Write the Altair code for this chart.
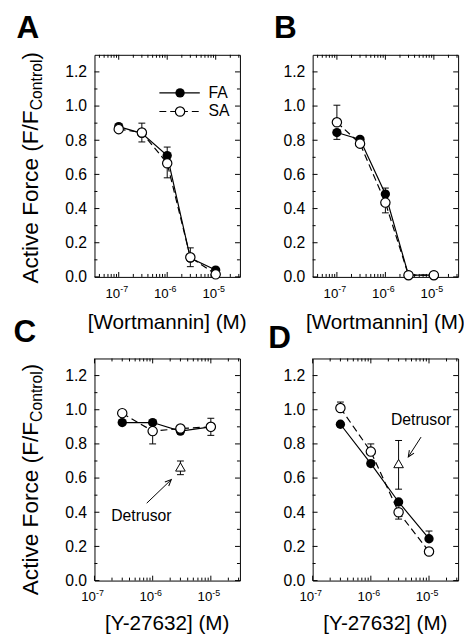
import altair as alt
import pandas as pd

FONT = "Liberation Sans"
W, H = 148, 226
TMAJ, TMIN = 5, 3

# ---------------- data ----------------
wort_conc = [1e-7, 3e-7, 1e-6, 3e-6, 1e-5]
y27_conc = [3e-7, 1e-6, 3e-6, 1e-5]
det_conc = [3e-6]

A_FA = [0.88, 0.84, 0.71, 0.11, 0.04]
A_FA_lo = [0.88, 0.84, 0.71, 0.11, 0.04]
A_FA_hi = [0.88, 0.84, 0.76, 0.11, 0.04]
A_SA = [0.865, 0.845, 0.665, 0.115, 0.015]
A_SA_lo = [0.865, 0.79, 0.58, 0.06, 0.015]
A_SA_hi = [0.865, 0.90, 0.665, 0.17, 0.015]

B_FA = [0.845, 0.805, 0.485, 0.01, 0.01]
B_FA_lo = [0.805, 0.805, 0.485, 0.01, 0.01]
B_FA_hi = [0.845, 0.805, 0.52, 0.01, 0.01]
B_SA = [0.905, 0.78, 0.435, 0.01, 0.01]
B_SA_lo = [0.905, 0.78, 0.375, 0.01, 0.01]
B_SA_hi = [1.005, 0.78, 0.435, 0.01, 0.01]

C_FA = [0.925, 0.925, 0.875, 0.90]
C_FA_lo = [0.925, 0.925, 0.875, 0.90]
C_FA_hi = [0.925, 0.925, 0.875, 0.90]
C_SA = [0.98, 0.875, 0.89, 0.90]
C_SA_lo = [0.98, 0.80, 0.89, 0.85]
C_SA_hi = [0.98, 0.875, 0.89, 0.95]
C_DET, C_DET_lo, C_DET_hi = [0.665], [0.62], [0.70]

D_FA = [0.915, 0.685, 0.46, 0.245]
D_FA_lo = [0.915, 0.685, 0.46, 0.245]
D_FA_hi = [0.915, 0.685, 0.46, 0.29]
D_SA = [1.01, 0.755, 0.40, 0.17]
D_SA_lo = [1.01, 0.755, 0.36, 0.17]
D_SA_hi = [1.045, 0.80, 0.40, 0.17]
D_DET, D_DET_lo, D_DET_hi = [0.685], [0.535], [0.82]

# axis ticks / labels
y_major = [0.0, 0.2, 0.4, 0.6, 0.8, 1.0, 1.2]
y_minor = [0.1, 0.3, 0.5, 0.7, 0.9, 1.1]
x_decades = [1e-7, 1e-6, 1e-5]
x_exponents = ["-7", "-6", "-5"]
wort_domain = [10 ** -7.5, 10 ** -4.5]
y27_domain = [1e-7, 10 ** -4.5]
wort_minor = [k * 1e-8 for k in range(4, 10)] + [k * 1e-7 for k in range(2, 10)] + \
             [k * 1e-6 for k in range(2, 10)] + [2e-5, 3e-5]
y27_minor = [k * 1e-7 for k in range(2, 10)] + [k * 1e-6 for k in range(2, 10)] + [2e-5, 3e-5]

# legend (panel A) and annotations
legend_line_x = [6.9e-7, 4.7e-6]
legend_mark_x = [1.84e-6]
legend_text_x = [7.1e-6]
legend_y = {"FA": 1.077, "SA": 0.968}

C_note = {"tx": 6.4e-7, "ty": 0.38, "x1": 7.9e-7, "y1": 0.453, "x2": 2.09e-6, "y2": 0.591, "ang": 46}
D_note = {"tx": 7.3e-6, "ty": 0.94, "x1": 7.3e-6, "y1": 0.84, "x2": 4.4e-6, "y2": 0.724, "ang": 213}

ONE = pd.DataFrame({"a": [0]})


def panel(letter, lx, ly, conc, fa, fa_lo, fa_hi, sa, sa_lo, sa_hi, xdom, xminor, xtitle, xtitle_y,
          ytitle_y=None, det=None, note=None, legend=False):
    xsc = alt.Scale(type="log", domain=xdom, nice=False)
    ysc = alt.Scale(domain=[0, 1.3], nice=False)
    yaxis = alt.Axis(values=y_major, format=".1f", ticks=False, tickSize=0, domain=False, grid=False,
                     labelFontSize=16, labelPadding=8, labelColor="black", labelFont=FONT, title=None)

    def X(f):
        return alt.X(f"{f}:Q", scale=xsc, axis=None)

    def Y(f):
        return alt.Y(f"{f}:Q", scale=ysc, axis=yaxis)

    L = []
    ymaj = pd.DataFrame({"v": y_major})
    ymin = pd.DataFrame({"v": y_minor})
    xmaj = pd.DataFrame({"v": x_decades})
    xmin = pd.DataFrame({"v": xminor})
    rule = dict(color="black", strokeWidth=1)
    L.append(alt.Chart(ymaj).mark_rule(**rule).encode(y=Y("v"), x=alt.value(0), x2=alt.value(TMAJ)))
    L.append(alt.Chart(ymin).mark_rule(**rule).encode(y=Y("v"), x=alt.value(0), x2=alt.value(TMIN)))
    L.append(alt.Chart(ymaj).mark_rule(**rule).encode(y=Y("v"), x=alt.value(W), x2=alt.value(W - TMAJ)))
    L.append(alt.Chart(ymin).mark_rule(**rule).encode(y=Y("v"), x=alt.value(W), x2=alt.value(W - TMIN)))
    L.append(alt.Chart(xmaj).mark_rule(**rule).encode(x=X("v"), y=alt.value(H), y2=alt.value(H - TMAJ)))
    L.append(alt.Chart(xmin).mark_rule(**rule).encode(x=X("v"), y=alt.value(H), y2=alt.value(H - TMIN)))
    L.append(alt.Chart(xmaj).mark_rule(**rule).encode(x=X("v"), y=alt.value(0), y2=alt.value(TMAJ)))
    L.append(alt.Chart(xmin).mark_rule(**rule).encode(x=X("v"), y=alt.value(0), y2=alt.value(TMIN)))

    # x tick labels 10^n
    xl = pd.DataFrame({"v": x_decades, "e": x_exponents})
    L.append(alt.Chart(xl).mark_text(text="10", align="right", baseline="alphabetic", fontSize=13.5,
                                     dx=1.5, color="black", font=FONT)
             .encode(x=X("v"), y=alt.value(H + 21)))
    L.append(alt.Chart(xl).mark_text(align="left", baseline="alphabetic", fontSize=9, dx=1.5,
                                     color="black", font=FONT)
             .encode(x=X("v"), y=alt.value(H + 15.5), text="e:N"))

    # series
    dfa = pd.DataFrame({"x": conc, "y": fa, "lo": fa_lo, "hi": fa_hi})
    dsa = pd.DataFrame({"x": conc, "y": sa, "lo": sa_lo, "hi": sa_hi})
    parts = [dfa, dsa]
    if det is not None:
        ddet = pd.DataFrame({"x": det_conc, "y": det[0], "lo": det[1], "hi": det[2]})
        parts.append(ddet)
    allp = pd.concat(parts, ignore_index=True)
    bars = allp[allp["lo"] < allp["hi"]]
    caps = pd.concat([
        pd.DataFrame({"x": allp["x"][allp["lo"] < allp["y"]], "c": allp["lo"][allp["lo"] < allp["y"]]}),
        pd.DataFrame({"x": allp["x"][allp["hi"] > allp["y"]], "c": allp["hi"][allp["hi"] > allp["y"]]}),
    ], ignore_index=True)

    L.append(alt.Chart(dfa).mark_line(color="black", strokeWidth=1.2).encode(x=X("x"), y=Y("y")))
    L.append(alt.Chart(dsa).mark_line(color="black", strokeWidth=1.2, strokeDash=[7, 4])
             .encode(x=X("x"), y=Y("y")))
    L.append(alt.Chart(bars).mark_rule(color="black", strokeWidth=1)
             .encode(x=X("x"), y=Y("lo"), y2=alt.Y2("hi")))
    L.append(alt.Chart(caps).mark_rule(color="black", strokeWidth=1, xOffset=-3.5, x2Offset=3.5)
             .encode(x=X("x"), x2=alt.X2("x"), y=Y("c")))
    L.append(alt.Chart(dfa).mark_point(shape="circle", size=90, filled=True, color="black", opacity=1)
             .encode(x=X("x"), y=Y("y")))
    L.append(alt.Chart(dsa).mark_point(shape="circle", size=90, filled=True, fill="white", stroke="black",
                                       strokeWidth=1.2, opacity=1)
             .encode(x=X("x"), y=Y("y")))
    if det is not None:
        L.append(alt.Chart(ddet).mark_point(shape="triangle-up", size=95, filled=True, fill="white",
                                            stroke="black", strokeWidth=1, opacity=1)
                 .encode(x=X("x"), y=Y("y")))

    if legend:
        lfa = pd.DataFrame({"x": legend_line_x, "y": [legend_y["FA"]] * 2})
        lsa = pd.DataFrame({"x": legend_line_x, "y": [legend_y["SA"]] * 2})
        mfa = pd.DataFrame({"x": legend_mark_x, "y": [legend_y["FA"]]})
        msa = pd.DataFrame({"x": legend_mark_x, "y": [legend_y["SA"]]})
        tl = pd.DataFrame({"x": legend_text_x * 2, "y": [legend_y["FA"], legend_y["SA"]], "t": ["FA", "SA"]})
        L.append(alt.Chart(lfa).mark_line(color="black", strokeWidth=1.2).encode(x=X("x"), y=Y("y")))
        L.append(alt.Chart(lsa).mark_line(color="black", strokeWidth=1.2, strokeDash=[7, 4])
                 .encode(x=X("x"), y=Y("y")))
        L.append(alt.Chart(mfa).mark_point(shape="circle", size=90, filled=True, color="black", opacity=1)
                 .encode(x=X("x"), y=Y("y")))
        L.append(alt.Chart(msa).mark_point(shape="circle", size=90, filled=True, fill="white",
                                           stroke="black", strokeWidth=1.2, opacity=1)
                 .encode(x=X("x"), y=Y("y")))
        L.append(alt.Chart(tl).mark_text(align="left", baseline="middle", fontSize=16, color="black",
                                         font=FONT)
                 .encode(x=X("x"), y=Y("y"), text="t:N"))

    if note is not None:
        nt = pd.DataFrame({"x": [note["tx"]], "y": [note["ty"]], "t": ["Detrusor"]})
        na = pd.DataFrame({"x": [note["x1"]], "y": [note["y1"]], "x2": [note["x2"]], "y2": [note["y2"]]})
        nh = pd.DataFrame({"x": [note["x2"]], "y": [note["y2"]]})
        L.append(alt.Chart(nt).mark_text(align="center", baseline="middle", fontSize=16, color="black",
                                         font=FONT)
                 .encode(x=X("x"), y=Y("y"), text="t:N"))
        L.append(alt.Chart(na).mark_rule(color="black", strokeWidth=1)
                 .encode(x=X("x"), y=Y("y"), x2=alt.X2("x2"), y2=alt.Y2("y2")))
        L.append(alt.Chart(nh).mark_point(shape="M-0.4,0.9L0,0L0.4,0.9", size=200, filled=False,
                                          stroke="black", strokeWidth=1, opacity=1, angle=note["ang"])
                 .encode(x=X("x"), y=Y("y")))

    # titles and letter
    L.append(alt.Chart(ONE).mark_text(text=xtitle, align="center", baseline="alphabetic", fontSize=21,
                                      color="black", font=FONT)
             .encode(x=alt.value(W / 2), y=alt.value(H + xtitle_y)))
    L.append(alt.Chart(ONE).mark_text(text=letter, align="left", baseline="top", fontSize=32,
                                      fontWeight="bold", color="black", font=FONT)
             .encode(x=alt.value(lx), y=alt.value(ly)))
    if ytitle_y is not None:
        main_len = 7.668 * 23
        sub_len = 3.223 * 16
        L.append(alt.Chart(ONE).mark_text(text="Active Force (F/F", angle=270, align="left",
                                          baseline="alphabetic", fontSize=23, color="black", font=FONT)
                 .encode(x=alt.value(-57.5), y=alt.value(ytitle_y)))
        L.append(alt.Chart(ONE).mark_text(text="Control", angle=270, align="left",
                                          baseline="alphabetic", fontSize=16, color="black", font=FONT)
                 .encode(x=alt.value(-53), y=alt.value(ytitle_y - main_len)))
        L.append(alt.Chart(ONE).mark_text(text=")", angle=270, align="left",
                                          baseline="alphabetic", fontSize=23, color="black", font=FONT)
                 .encode(x=alt.value(-57.5), y=alt.value(ytitle_y - main_len - sub_len)))

    return alt.layer(*L).properties(width=W, height=H)


pA = panel("A", -79.3, -42, wort_conc, A_FA, A_FA_lo, A_FA_hi, A_SA, A_SA_lo, A_SA_hi,
           wort_domain, wort_minor, "[Wortmannin] (M)", 53, ytitle_y=232.8, legend=True)
pB = panel("B", -39.3, -42, wort_conc, B_FA, B_FA_lo, B_FA_hi, B_SA, B_SA_lo, B_SA_hi,
           wort_domain, wort_minor, "[Wortmannin] (M)", 53)
pC = panel("C", -82.5, -42, y27_conc, C_FA, C_FA_lo, C_FA_hi, C_SA, C_SA_lo, C_SA_hi,
           y27_domain, y27_minor, "[Y-27632] (M)", 50, ytitle_y=240.9,
           det=(C_DET, C_DET_lo, C_DET_hi), note=C_note)
pD = panel("D", -45.3, -36, y27_conc, D_FA, D_FA_lo, D_FA_hi, D_SA, D_SA_lo, D_SA_hi,
           y27_domain, y27_minor, "[Y-27632] (M)", 50,
           det=(D_DET, D_DET_lo, D_DET_hi), note=D_note)

chart = alt.concat(pA, pB, pC, pD, columns=2, spacing={"row": 83, "column": 74}, bounds="flush").properties(
    autosize=alt.AutoSizeParams(type="none"),
    padding={"left": 88, "top": 42, "right": 376, "bottom": 600},
).configure(font=FONT).configure_view(stroke="black", strokeWidth=1)

chart.save("out.html", embed_options={"renderer": "svg", "actions": False})
